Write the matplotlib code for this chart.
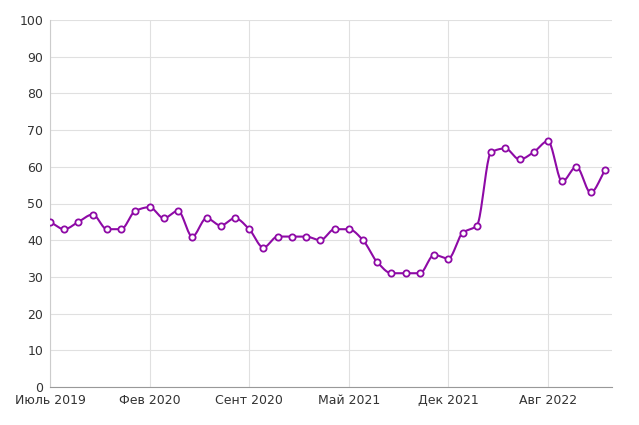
import numpy as np
import matplotlib
matplotlib.use("Agg")
import matplotlib.pyplot as plt

values = [45, 43, 45, 47, 43, 43, 48, 49, 46, 48,
          41, 46, 44, 46, 43, 38, 41, 41, 41, 40,
          43, 43, 40, 34, 31, 31, 31, 36, 35, 42,
          44, 64, 65, 62, 64, 67, 56, 60, 53, 59]
tick_pos = [0, 7, 14, 21, 28, 35]
tick_labels = ["Июль 2019", "Фев 2020", "Сент 2020", "Май 2021", "Дек 2021", "Авг 2022"]


def monotone_curve(y, steps=20):
    # Fritsch-Carlson monotone cubic, used only to draw the smooth line
    y = np.asarray(y, float)
    n = len(y)
    d = np.diff(y)
    m = np.zeros(n)
    m[0], m[-1] = d[0], d[-1]
    for i in range(1, n - 1):
        if d[i - 1] * d[i] > 0:
            m[i] = 2 / (1 / d[i - 1] + 1 / d[i])
    xs, ys = [], []
    for i in range(n - 1):
        t = np.linspace(0, 1, steps, endpoint=False)
        h00 = 2 * t**3 - 3 * t**2 + 1
        h10 = t**3 - 2 * t**2 + t
        h01 = -2 * t**3 + 3 * t**2
        h11 = t**3 - t**2
        xs.append(i + t)
        ys.append(h00 * y[i] + h10 * m[i] + h01 * y[i + 1] + h11 * m[i + 1])
    xs.append([n - 1])
    ys.append([y[-1]])
    return np.concatenate(xs), np.concatenate(ys)


color = "#8e0aa6"
fig = plt.figure(figsize=(6.39, 4.25), dpi=100)
ax = fig.add_axes([50 / 639, 38 / 425, 562 / 639, 367 / 425])
x = np.arange(len(values))
cx, cy = monotone_curve(values)
ax.plot(cx, cy, color=color, lw=1.5, zorder=3)
ax.plot(x, values, "o", ms=4.5, mfc="white", mec=color, mew=1.3, zorder=4)

ax.set_xlim(0, 39.5)
ax.set_ylim(0, 100)
ax.set_yticks(range(0, 101, 10))
ax.set_xticks(tick_pos)
ax.set_xticklabels(tick_labels)
ax.grid(True, color="#e0e0e0", lw=0.8)
for s in ["top", "right"]:
    ax.spines[s].set_visible(False)
ax.spines["left"].set_color("#cccccc")
ax.spines["bottom"].set_color("#999999")
ax.tick_params(colors="#333333", labelsize=9, length=0, pad=5)
fig.savefig("out.png", dpi=100)
